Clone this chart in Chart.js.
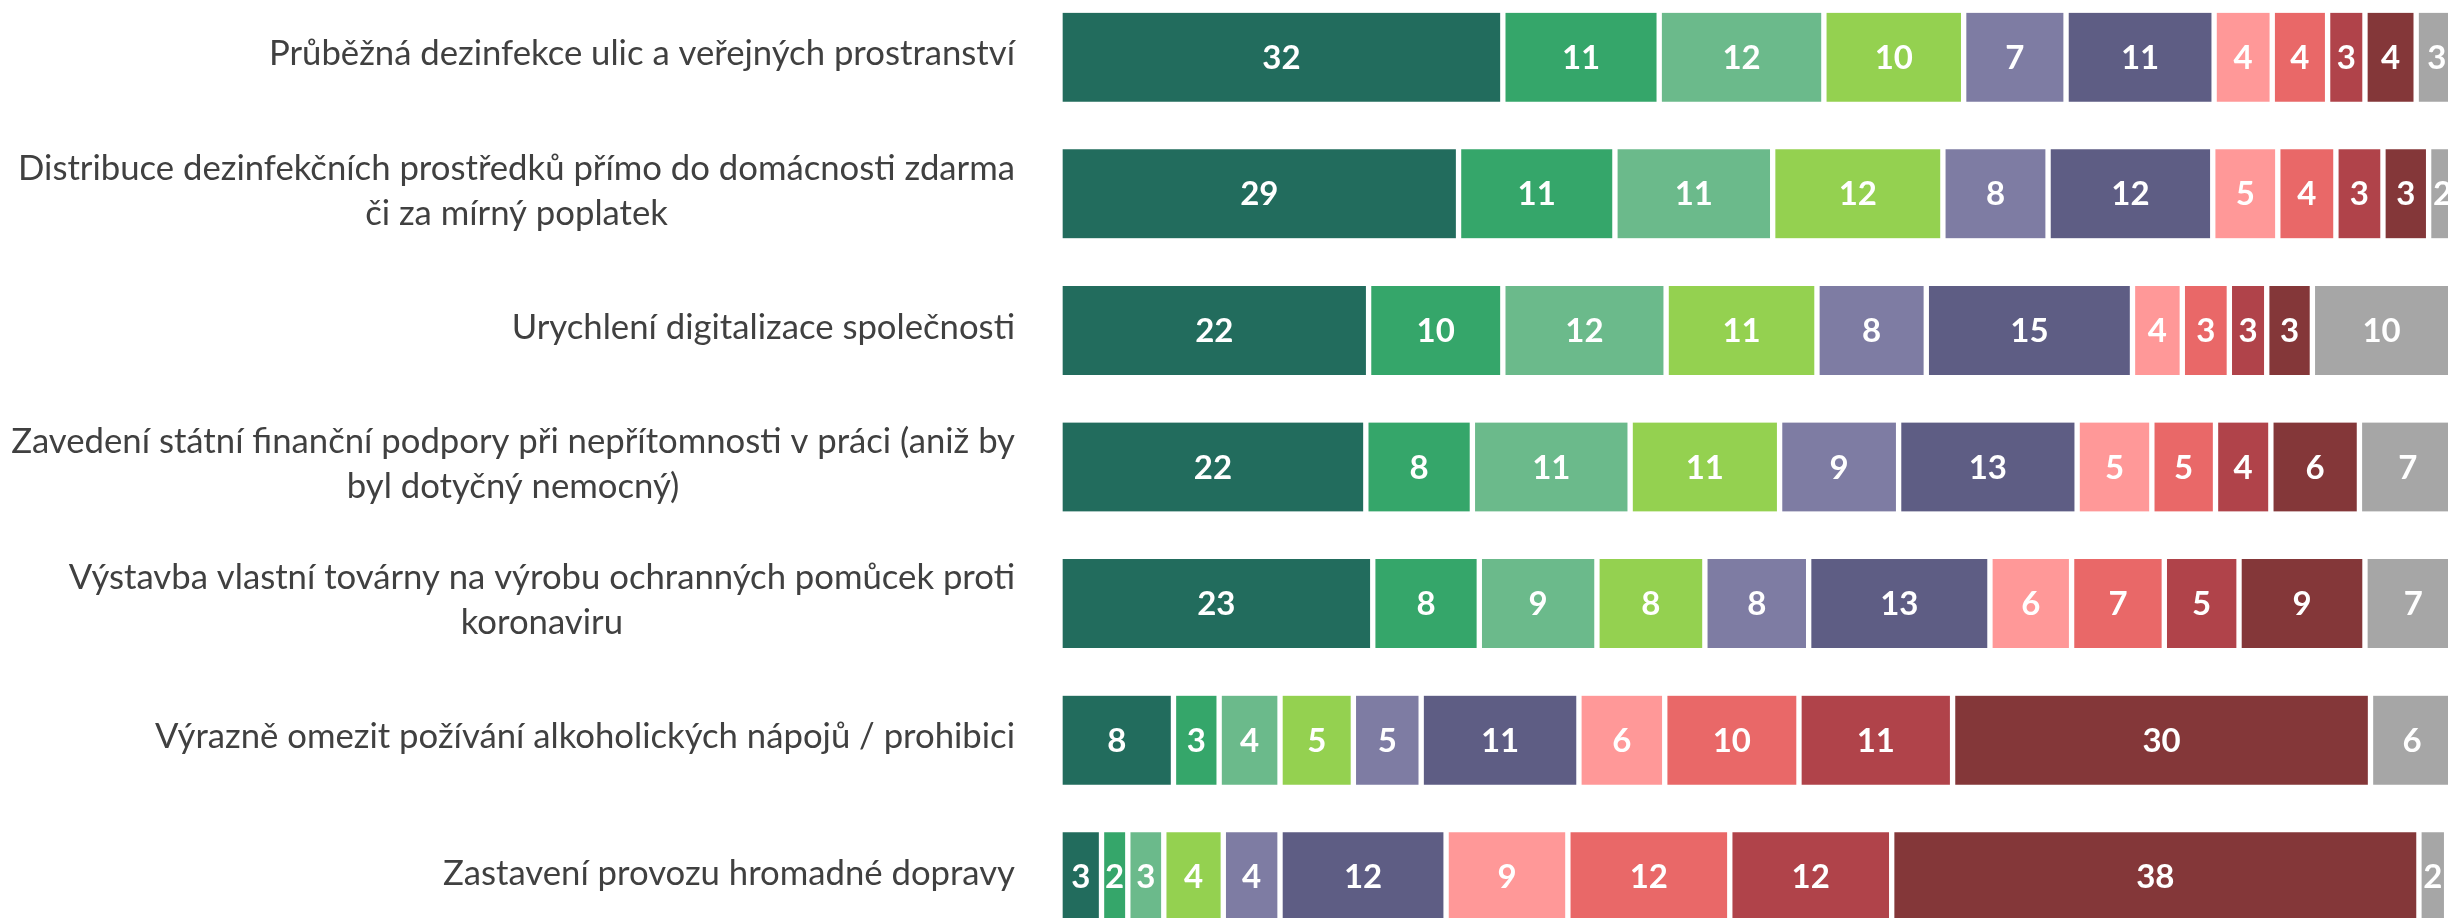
<!DOCTYPE html>
<html lang="cs">
<head>
<meta charset="utf-8">
<title>Opatření</title>
<script src="https://cdn.jsdelivr.net/npm/chart.js@4/dist/chart.umd.min.js"></script>
<style>
  html, body { margin: 0; padding: 0; background: #fff; }
  #wrap { position: relative; width: 2448px; height: 918px; overflow: hidden; }
  #chart { position: absolute; left: 0; top: -11px; }
</style>
</head>
<body>
<div id="wrap">
  <canvas id="chart" width="2448" height="956"></canvas>
</div>
<script>
// kategorie (řádky grafu), víceřádkové popisky jako pole
const categories = [
    ['Průběžná dezinfekce ulic a veřejných prostranství'],
    ['Distribuce dezinfekčních prostředků přímo do domácnosti zdarma', 'či za mírný poplatek'],
    ['Urychlení digitalizace společnosti'],
    ['Zavedení státní finanční podpory při nepřítomnosti v práci (aniž by', 'byl dotyčný nemocný)'],
    ['Výstavba vlastní továrny na výrobu ochranných pomůcek proti', 'koronaviru'],
    ['Výrazně omezit požívání alkoholických nápojů / prohibici'],
    ['Zastavení provozu hromadné dopravy']
];

// hodnoty jednotlivých stupňů škály (v %)
const s1  = [32.0, 28.8, 22.3, 22.1, 22.6, 8.2, 3.0];
const s2  = [11.3, 11.3, 9.7, 7.7, 7.7, 3.3, 1.9];
const s3  = [11.9, 11.4, 11.8, 11.4, 8.5, 4.4, 2.6];
const s4  = [10.1, 12.3, 10.9, 10.8, 7.8, 5.3, 4.3];
const s5  = [7.4, 7.6, 7.9, 8.6, 7.5, 4.9, 4.1];
const s6  = [10.7, 11.9, 14.9, 12.9, 13.1, 11.4, 12.0];
const s7  = [4.2, 4.7, 3.6, 5.4, 5.9, 6.2, 8.8];
const s8  = [4.0, 4.2, 3.4, 4.6, 6.7, 9.7, 11.7];
const s9  = [2.7, 3.4, 2.7, 4.0, 5.4, 11.1, 11.7];
const s10 = [3.7, 3.3, 3.3, 6.4, 9.1, 30.2, 38.1];
const s11 = [3, 2, 10, 7, 7, 6, 2];

const series = [s1, s2, s3, s4, s5, s6, s7, s8, s9, s10, s11];
const colors = [
    '#226C5D', '#35A66A', '#6BBA8B', '#94D150', '#7E7CA3', '#5E5D84',
    '#FF9898', '#E96868', '#B0434A', '#843739', '#A6A6A6'
];

const datasets = series.map((data, i) => ({
    label: 'S' + (i + 1),
    data: data,
    backgroundColor: colors[i],
    borderColor: '#ffffff',
    borderWidth: { left: 3, right: 3, top: 0, bottom: 0 },
    borderSkipped: false,
    barThickness: 89
}));

// hodnoty uvnitř pruhů
const valueLabels = {
    id: 'valueLabels',
    afterDatasetsDraw(chart) {
        const ctx = chart.ctx;
        ctx.save();
        ctx.font = 'bold 33px Lato';
        ctx.fillStyle = '#ffffff';
        ctx.textAlign = 'center';
        ctx.textBaseline = 'middle';
        chart.data.datasets.forEach((ds, di) => {
            const meta = chart.getDatasetMeta(di);
            meta.data.forEach((bar, i) => {
                const x = (bar.x + bar.base) / 2;
                ctx.fillText(String(Math.round(ds.data[i])), x, bar.y + 1);
            });
        });
        ctx.restore();
    }
};

// popisky kategorií: blok zarovnaný doprava, řádky na střed
const categoryLabels = {
    id: 'categoryLabels',
    afterDraw(chart) {
        const ctx = chart.ctx;
        const yScale = chart.scales.y;
        const right = 1015;
        const lineH = 45;
        ctx.save();
        ctx.font = '34.7px Lato';
        ctx.fillStyle = '#404040';
        ctx.textAlign = 'center';
        ctx.textBaseline = 'middle';
        categories.forEach((lines, i) => {
            const y = yScale.getPixelForValue(i);
            const w = Math.max(...lines.map(l => ctx.measureText(l).width));
            const cx = right - w / 2;
            lines.forEach((line, j) => {
                ctx.fillText(line, cx, y + (j - (lines.length - 1) / 2) * lineH - 3);
            });
        });
        ctx.restore();
    }
};

new Chart(document.getElementById('chart'), {
    type: 'bar',
    data: {
        labels: categories.map(c => c.join(' ')),
        datasets: datasets
    },
    options: {
        indexAxis: 'y',
        responsive: false,
        animation: false,
        devicePixelRatio: 1,
        layout: { padding: { left: 1060, right: 0, top: 0, bottom: 0 } },
        plugins: {
            legend: { display: false },
            tooltip: { enabled: false }
        },
        scales: {
            x: { stacked: true, min: 0, max: 100.3, display: false },
            y: { stacked: true, display: false }
        }
    },
    plugins: [valueLabels, categoryLabels]
});
</script>
</body>
</html>
